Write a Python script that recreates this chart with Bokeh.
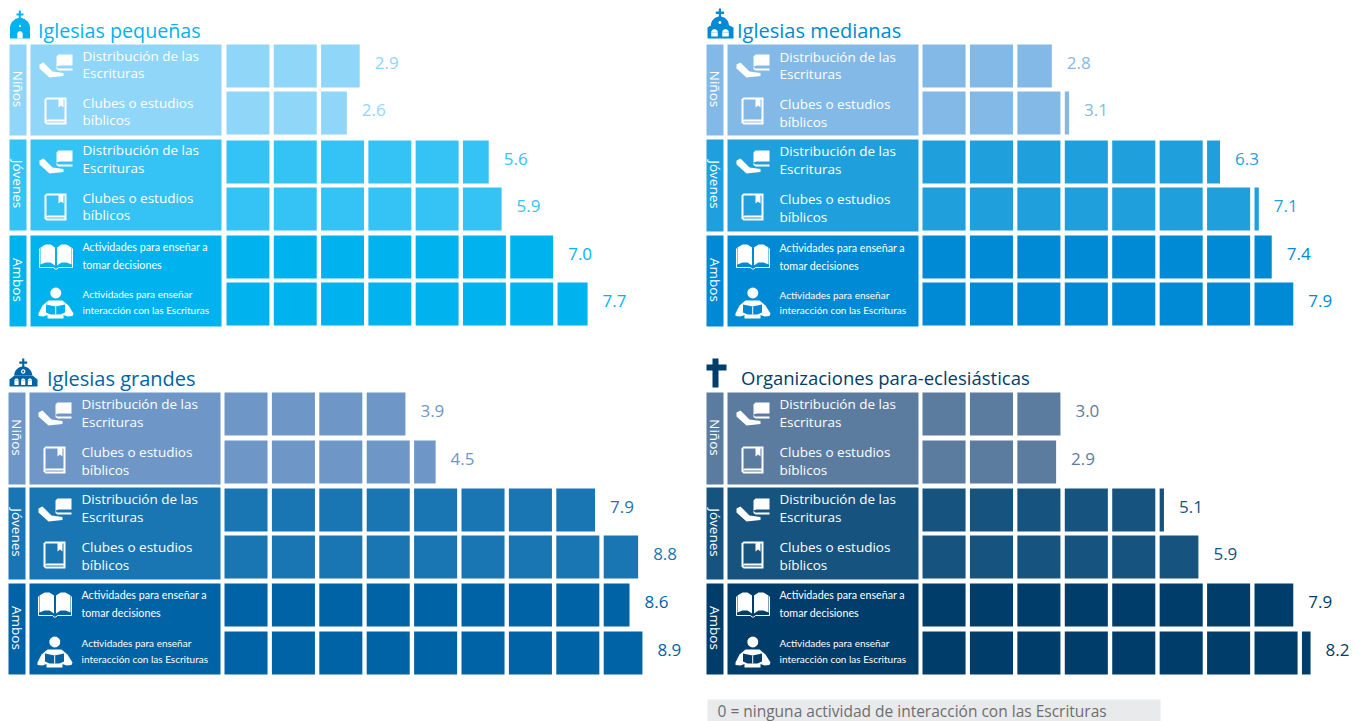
import math
from bokeh.plotting import figure
from bokeh.layouts import column, row
from bokeh.models import Range1d
from bokeh.core.properties import value
from bokeh.embed import file_html
from bokeh.resources import INLINE

# ---------- data ----------
panel_titles = ["Iglesias pequeñas", "Iglesias medianas", "Iglesias grandes", "Organizaciones para-eclesiásticas"]
groups = ["Niños", "Jóvenes", "Ambos"]
activities = [
    ("Distribución de las", "Escrituras"),
    ("Clubes o estudios", "bíblicos"),
    ("Distribución de las", "Escrituras"),
    ("Clubes o estudios", "bíblicos"),
    ("Actividades para enseñar a", "tomar decisiones"),
    ("Actividades para enseñar", "interacción con las Escrituras"),
]
small_values = [2.9, 2.6, 5.6, 5.9, 7.0, 7.7]
medium_values = [2.8, 3.1, 6.3, 7.1, 7.4, 7.9]
large_values = [3.9, 4.5, 7.9, 8.8, 8.6, 8.9]
para_values = [3.0, 2.9, 5.1, 5.9, 7.9, 8.2]
footnote = "0 = ninguna actividad de interacción con las Escrituras"

# ---------- styles / layout ----------
FONT = "Open Sans"
NARROW = "Lato"
CELL = 0.908

panels = [
    dict(title=panel_titles[0], vals=small_values, main="#00B3EF", shades=["#8FD6F8", "#34C3F4", "#00B3EF"],
         win=(0, 700, 350, 0), tab=9, block=30, cells=226, pitch=47.29, title_x=37.5, title_y=29.5, title_size=19.7,
         rows=[44, 91, 140, 187, 235, 282], text_y=[(55, 72), (102, 119), (149, 167), (197, 214), (246, 264), (293, 309)],
         tabs=[(44, 135), (139, 230), (235, 326)], icon="small"),
    dict(title=panel_titles[1], vals=medium_values, main="#008AD5", shades=["#83B9E7", "#1F9FDC", "#008AD5"],
         win=(700, 1364, 350, 0), tab=706, block=727, cells=922, pitch=47.43, title_x=736.5, title_y=29.5, title_size=20,
         rows=[44, 91, 140, 187, 235, 282], text_y=[(56, 73), (103, 121), (150, 168), (198, 216), (247, 265), (294, 309)],
         tabs=[(44, 135), (139, 231), (235, 326)], icon="medium"),
    dict(title=panel_titles[2], vals=large_values, main="#0063A6", shades=["#6E97C8", "#1A75B3", "#0063A6"],
         win=(0, 700, 721, 350), tab=8, block=29, cells=224, pitch=47.4, title_x=46.5, title_y=377.5, title_size=20,
         rows=[392, 440, 488, 535, 583, 631], text_y=[(403, 421), (451, 469), (498, 516), (546, 564), (594, 612), (642, 658)],
         tabs=[(392, 484), (487, 579), (583, 674)], icon="large"),
    dict(title=panel_titles[3], vals=para_values, main="#003D6B", shades=["#5C7C9F", "#17537F", "#003D6B"],
         win=(700, 1364, 721, 350), tab=706, block=727, cells=922, pitch=47.43, title_x=740.5, title_y=376.5, title_size=18.5,
         rows=[392, 440, 488, 535, 583, 631], text_y=[(403, 421), (451, 469), (498, 516), (546, 564), (594, 612), (642, 658)],
         tabs=[(392, 484), (487, 579), (583, 674)], icon="cross"),
]
ROW_H = 43


def poly(p, xs, ys, color):
    p.patch(xs, ys, fill_color=color, line_color=None)


def rect(p, l, t, r, b, color):
    p.quad(left=[l], right=[r], top=[t], bottom=[b], fill_color=color, line_color=None)


def disc(p, cx, cy, r, color, a0=0.0, a1=2 * math.pi):
    n = 40
    xs = [cx + r * math.cos(a0 + (a1 - a0) * i / n) for i in range(n + 1)]
    ys = [cy - r * math.sin(a0 + (a1 - a0) * i / n) for i in range(n + 1)]
    poly(p, xs, ys, color)


def offs(ox, oy, pts):
    return [ox + a for a, _ in pts], [oy + b for _, b in pts]


def icon_hand(p, ox, oy, fg, bg):
    # book
    poly(p, *offs(ox, oy, [(28, 10), (42, 10), (42, 21), (29, 21), (26, 22), (26, 12)]), fg)
    poly(p, *offs(ox, oy, [(26, 22), (27.5, 24), (42, 24), (42, 26), (28, 26), (26, 24.5)]), fg)
    # hand
    poly(p, *offs(ox, oy, [(9, 20), (13, 18), (22, 27), (33, 28.5), (33, 31.5), (19, 33), (9, 24)]), fg)


def icon_book(p, ox, oy, fg, bg):
    poly(p, *offs(ox, oy, [(16, 6), (36, 6), (36, 33), (16, 33), (14, 31), (14, 8)]), fg)
    poly(p, *offs(ox, oy, [(16, 8), (34, 8), (34, 28), (17, 28), (16, 29)]), bg)
    rect(p, ox + 16, oy + 30, ox + 34, oy + 31, bg)
    poly(p, *offs(ox, oy, [(28, 7), (33, 7), (33, 16), (30.5, 14), (28, 16)]), fg)


def icon_open(p, ox, oy, fg, bg):
    poly(p, *offs(ox, oy, [(10, 12), (15, 9), (20, 9), (24.5, 12), (24.5, 30), (20, 27), (15, 27), (10, 29)]), fg)
    poly(p, *offs(ox, oy, [(26.5, 12), (31, 9), (36, 9), (41, 12), (41, 29), (36, 27), (31, 27), (26.5, 30)]), fg)
    p.line(*offs(ox, oy, [(9, 13), (9, 32), (23, 32), (24.7, 33.5), (26.3, 33.5), (28, 32), (42, 32), (42, 13)]),
           line_color=fg, line_width=1)


def icon_person(p, ox, oy, fg, bg):
    disc(p, ox + 25.3, oy + 10.5, 5.4, fg)
    poly(p, *offs(ox, oy, [(18, 18), (32, 18), (38, 23), (43, 31), (42, 33.5), (37, 34), (33, 32.5), (33, 36),
                           (17, 36), (17, 32.5), (13, 34), (8, 33.5), (8, 31), (12, 23)]), fg)
    poly(p, *offs(ox, oy, [(15.5, 22), (25, 24), (34.5, 22), (34.5, 30), (30, 32), (20, 32), (15.5, 30)]), bg)
    rect(p, ox + 24.7, oy + 24, ox + 25.7, oy + 32, fg)


def church_small(p, c):
    rect(p, 18.3, 10, 20.3, 19, c)
    rect(p, 16, 13, 23, 15, c)
    disc(p, 19.5, 27.5, 10, c, 0, math.pi)
    rect(p, 9.5, 27, 29.5, 38, c)
    disc(p, 19.5, 33.5, 2.7, "white", 0, math.pi)
    rect(p, 16.8, 33.5, 22.2, 38, "white")
    disc(p, 19.5, 25.5, 1.1, "white")


def church_medium(p, c):
    rect(p, 718.3, 8, 720.5, 17, c)
    rect(p, 715.3, 11, 723.5, 13.4, c)
    disc(p, 719.4, 25, 9, c, 0, math.pi)
    poly(p, [707, 712, 727, 733, 733, 707], [27, 24, 24, 27, 38, 38], c)
    disc(p, 719.4, 22, 1.4, "white")
    for cx in (714, 725):
        disc(p, cx, 32, 3.3, "white", 0, math.pi)
        rect(p, cx - 3.3, 32, cx + 3.3, 36, "white")
    rect(p, 719, 31, 720, 36, c)


def church_large(p, c):
    rect(p, 21.7, 358, 23.8, 367, c)
    rect(p, 18.8, 361, 26.7, 363.2, c)
    disc(p, 22.7, 375, 9, c, 0, math.pi)
    poly(p, [9, 14, 32, 37, 37, 9], [379, 375, 375, 379, 386, 386], c)
    disc(p, 22.7, 371, 2.2, "white")
    disc(p, 22.7, 371, 1.0, c)
    for cx in (16, 22.7, 29.4):
        disc(p, cx, 380, 2.1, "white", 0, math.pi)
        rect(p, cx - 2.1, 380, cx + 2.1, 384.5, "white")


def cross(p, c):
    rect(p, 712, 358, 718, 387, c)
    rect(p, 706, 364, 726, 370, c)


def build(cfg):
    l, r, b, t = cfg["win"]
    p = figure(width=r - l, height=b - t, output_backend="svg", toolbar_location=None,
               x_range=Range1d(l, r), y_range=Range1d(b, t), min_border=0,
               x_axis_type=None, y_axis_type=None, outline_line_color=None, background_fill_color="white")
    p.grid.visible = False
    # value scale: one unit = one square
    p.extra_x_ranges["units"] = Range1d((l - cfg["cells"]) / cfg["pitch"], (r - cfg["cells"]) / cfg["pitch"])

    # title + icon
    p.text(x=[cfg["title_x"]], y=[cfg["title_y"]], text=[cfg["title"]], text_font=value(FONT),
           text_font_size=f'{cfg["title_size"]}px', text_color=cfg["main"], text_baseline="middle")
    {"small": church_small, "medium": church_medium, "large": church_large, "cross": cross}[cfg["icon"]](p, cfg["main"])

    # group tabs and label blocks
    for g, (tt, tb) in enumerate(cfg["tabs"]):
        shade = cfg["shades"][g]
        rect(p, cfg["tab"], tt, cfg["tab"] + 17, tb, shade)
        rect(p, cfg["block"], tt, cfg["block"] + 191, tb, shade)
        p.text(x=[cfg["tab"] + 8.5], y=[(tt + tb) / 2 - 1], text=[groups[g]], angle=-math.pi / 2,
               text_font=value(FONT), text_font_size="13.5px", text_color="white",
               text_align="center", text_baseline="middle")

    # bars as squares
    lefts, rights, tops, bottoms, colors = [], [], [], [], []
    for i, v in enumerate(cfg["vals"]):
        shade = cfg["shades"][i // 2]
        whole = int(v + 1e-9)
        frac = v - whole
        for k in range(whole):
            lefts.append(k); rights.append(k + CELL)
            tops.append(cfg["rows"][i]); bottoms.append(cfg["rows"][i] + ROW_H); colors.append(shade)
        end = whole - 1 + CELL
        if frac > 1e-6:
            end = whole + CELL * frac
            lefts.append(whole); rights.append(end)
            tops.append(cfg["rows"][i]); bottoms.append(cfg["rows"][i] + ROW_H); colors.append(shade)
        p.text(x=[end], y=[cfg["rows"][i] + ROW_H / 2 - 3.2], text=[f"{v:.1f}"], x_range_name="units",
               x_offset=15, text_font=value(FONT), text_font_size="17px", text_color=shade,
               text_baseline="middle")
    p.quad(left=lefts, right=rights, top=tops, bottom=bottoms, fill_color=colors, line_color=None,
           x_range_name="units")

    # row labels and icons
    tx = cfg["block"] + 52
    for i, (a, bb) in enumerate(activities):
        font, size = {4: (NARROW, "10.7px"), 5: (NARROW, "10px")}.get(i, (FONT, "13.5px"))
        for line, y in zip((a, bb), cfg["text_y"][i]):
            p.text(x=[tx], y=[y], text=[line], text_font=value(font), text_font_size=size,
                   text_color="white", text_baseline="middle")
        fn = [icon_hand, icon_book, icon_hand, icon_book, icon_open, icon_person][i]
        fn(p, cfg["block"], cfg["rows"][i], "white", cfg["shades"][i // 2])

    return p


figs = [build(c) for c in panels]

# footnote in the lower right panel
fp = figs[3]
rect(fp, 707, 699, 1160, 721, "#E9EAEB")
fp.text(x=[717], y=[710], text=[footnote], text_font=value(FONT), text_font_size="15.5px",
        text_color="#6D6E71", text_baseline="middle")

layout = column(row(figs[0], figs[1]), row(figs[2], figs[3]))
open("out.html", "w").write(file_html(layout, INLINE))
